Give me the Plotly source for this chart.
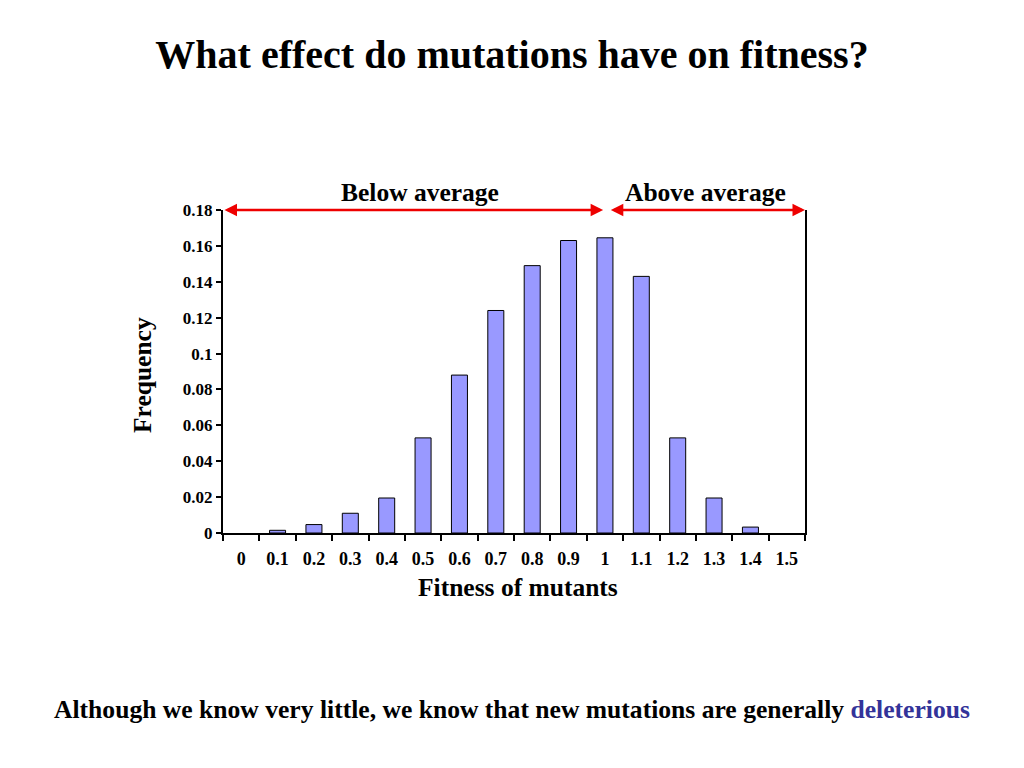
import plotly.graph_objects as go

categories = ["0", "0.1", "0.2", "0.3", "0.4", "0.5", "0.6", "0.7", "0.8", "0.9",
              "1", "1.1", "1.2", "1.3", "1.4", "1.5"]
frequency = [0.0, 0.0015, 0.0047, 0.011, 0.0195, 0.053, 0.088, 0.124, 0.149, 0.163,
             0.1645, 0.143, 0.053, 0.0195, 0.0033, 0.0]
y_ticks = [0, 0.02, 0.04, 0.06, 0.08, 0.1, 0.12, 0.14, 0.16, 0.18]
y_ticktext = ["0", "0.02", "0.04", "0.06", "0.08", "0.1", "0.12", "0.14", "0.16", "0.18"]

FONT = "Liberation Serif, Times New Roman, serif"
OFF = 8  # page body margin offset

fig = go.Figure()
fig.add_trace(go.Bar(
    x=categories, y=frequency,
    marker=dict(color="#9999ff",
                line=dict(color="#000000", width=[0 if v == 0 else 1 for v in frequency])),
    cliponaxis=False,
))

fig.update_layout(
    width=1024, height=768,
    margin=dict(l=223 - OFF, r=219 + OFF, t=210 - OFF, b=235 + OFF),
    paper_bgcolor="white", plot_bgcolor="white",
    font=dict(family=FONT, color="black", size=18, weight="bold"),
    showlegend=False,
    bargap=0.56,
    title=dict(text="What effect do mutations have on fitness?",
               x=(512 - OFF) / 1024, xref="container", xanchor="center",
               y=1 - (54 - OFF) / 768, yref="container", yanchor="middle",
               font=dict(family=FONT, size=40, color="black", weight="bold")),
)

fig.update_xaxes(
    type="category", range=[-0.5, 15.5],
    showline=True, linecolor="black", linewidth=2,
    ticks="outside", tickson="boundaries", ticklen=6, tickwidth=1.5, tickcolor="black",
    showgrid=False, zeroline=False,
    tickfont=dict(family=FONT, size=18, weight="bold"),
    ticklabelstandoff=8,
)
fig.update_yaxes(
    range=[0, 0.18],
    tickvals=y_ticks, ticktext=y_ticktext,
    showline=True, linecolor="black", linewidth=2, mirror=True,
    ticks="outside", ticklen=5, tickwidth=1.5, tickcolor="black",
    showgrid=False, zeroline=False,
    tickfont=dict(family=FONT, size=17, weight="bold"),
)

# Red double-headed arrows
arrow_common = dict(xref="x", yref="y", axref="x", ayref="y", text="",
                    showarrow=True, arrowhead=2, startarrowhead=2, arrowside="end+start",
                    arrowcolor="#ee0000", arrowwidth=2.5, arrowsize=1, startarrowsize=1)
fig.add_annotation(x=9.95, y=0.18, ax=-0.5, ay=0.18, **arrow_common)
fig.add_annotation(x=15.5, y=0.18, ax=10.12, ay=0.18, **arrow_common)

TXT = 25.5
fig.add_annotation(text="Below average", xref="paper", yref="paper",
                   x=(420 - 223) / 582, y=1 + 18 / 323, showarrow=False,
                   xanchor="center", yanchor="middle",
                   font=dict(family=FONT, size=TXT, weight="bold"))
fig.add_annotation(text="Above average", xref="paper", yref="paper",
                   x=(705 - 223) / 582, y=1 + 18 / 323, showarrow=False,
                   xanchor="center", yanchor="middle",
                   font=dict(family=FONT, size=TXT, weight="bold"))

fig.add_annotation(text="Frequency", xref="paper", yref="paper",
                   x=(142 - 223) / 582, y=(533 - 375) / 323, showarrow=False,
                   textangle=-90, xanchor="center", yanchor="middle",
                   font=dict(family=FONT, size=TXT, weight="bold"))
fig.add_annotation(text="Fitness of mutants", xref="paper", yref="paper",
                   x=(518 - 223) / 582, y=(533 - 587) / 323, showarrow=False,
                   xanchor="center", yanchor="middle",
                   font=dict(family=FONT, size=TXT, weight="bold"))

fig.add_annotation(
    text="Although we know very little, we know that new mutations are generally "
         "<span style='color:#333399'>deleterious</span>",
    xref="paper", yref="paper",
    x=(512 - 223) / 582, y=(533 - 709) / 323, showarrow=False,
    xanchor="center", yanchor="middle",
    font=dict(family=FONT, size=25.6, weight="bold"))

fig.write_html("out.html")
